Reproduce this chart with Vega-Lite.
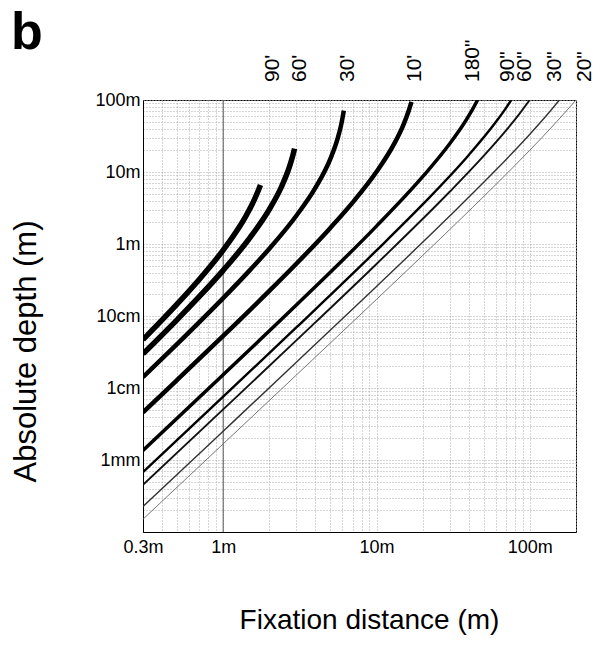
{
  "$schema": "https://vega.github.io/schema/vega-lite/v6.json",
  "width": 433,
  "height": 432,
  "autosize": {"type": "none"},
  "padding": {"left": 143, "top": 100, "right": 24, "bottom": 116},
  "background": "white",
  "config": {
    "font": "Liberation Sans",
    "view": {"stroke": "#000", "strokeWidth": 1}
  },
  "title": {
    "text": "b",
    "anchor": "start",
    "frame": "bounds",
    "fontSize": 52,
    "fontWeight": "bold",
    "color": "#000",
    "dx": 0,
    "dy": 24
  },
  "datasets": {
    "curves": [
      {"disparity": "90 arcmin", "D": 0.3, "depth": 0.04698},
      {"disparity": "90 arcmin", "D": 0.4, "depth": 0.08813},
      {"disparity": "90 arcmin", "D": 0.5, "depth": 0.14574},
      {"disparity": "90 arcmin", "D": 0.7, "depth": 0.32334},
      {"disparity": "90 arcmin", "D": 1.0, "depth": 0.8228},
      {"disparity": "90 arcmin", "D": 1.2, "depth": 1.4181},
      {"disparity": "90 arcmin", "D": 1.4, "depth": 2.4037},
      {"disparity": "90 arcmin", "D": 1.6, "depth": 4.1597},
      {"disparity": "90 arcmin", "D": 1.7, "depth": 5.607},
      {"disparity": "90 arcmin", "D": 1.751, "depth": 6.601},
      {"disparity": "60 arcmin", "D": 0.3, "depth": 0.02977},
      {"disparity": "60 arcmin", "D": 0.5, "depth": 0.08855},
      {"disparity": "60 arcmin", "D": 0.7, "depth": 0.18679},
      {"disparity": "60 arcmin", "D": 1.0, "depth": 0.43044},
      {"disparity": "60 arcmin", "D": 1.5, "depth": 1.2341},
      {"disparity": "60 arcmin", "D": 2.0, "depth": 3.023},
      {"disparity": "60 arcmin", "D": 2.4, "depth": 6.2389},
      {"disparity": "60 arcmin", "D": 2.7, "depth": 11.697},
      {"disparity": "60 arcmin", "D": 2.85, "depth": 17.16},
      {"disparity": "60 arcmin", "D": 2.92, "depth": 21.15},
      {"disparity": "30 arcmin", "D": 0.3, "depth": 0.014182},
      {"disparity": "30 arcmin", "D": 0.5, "depth": 0.040675},
      {"disparity": "30 arcmin", "D": 1.0, "depth": 0.17711},
      {"disparity": "30 arcmin", "D": 1.5, "depth": 0.43721},
      {"disparity": "30 arcmin", "D": 2.0, "depth": 0.86088},
      {"disparity": "30 arcmin", "D": 3.0, "depth": 2.4683},
      {"disparity": "30 arcmin", "D": 4.0, "depth": 6.0459},
      {"disparity": "30 arcmin", "D": 5.0, "depth": 15.185},
      {"disparity": "30 arcmin", "D": 5.6, "depth": 29.971},
      {"disparity": "30 arcmin", "D": 5.9, "depth": 46.64},
      {"disparity": "30 arcmin", "D": 6.12, "depth": 71.2},
      {"disparity": "10 arcmin", "D": 0.3, "depth": 0.0045828},
      {"disparity": "10 arcmin", "D": 0.5, "depth": 0.012861},
      {"disparity": "10 arcmin", "D": 1, "depth": 0.052801},
      {"disparity": "10 arcmin", "D": 2, "depth": 0.22299},
      {"disparity": "10 arcmin", "D": 3, "depth": 0.53132},
      {"disparity": "10 arcmin", "D": 5, "depth": 1.6735},
      {"disparity": "10 arcmin", "D": 7, "depth": 3.7871},
      {"disparity": "10 arcmin", "D": 10, "depth": 10.062},
      {"disparity": "10 arcmin", "D": 13, "depth": 24.356},
      {"disparity": "10 arcmin", "D": 15, "depth": 45.556},
      {"disparity": "10 arcmin", "D": 16.2, "depth": 70.19},
      {"disparity": "10 arcmin", "D": 16.9, "depth": 93.98},
      {"disparity": "180 arcsec", "D": 0.3, "depth": 0.00136},
      {"disparity": "180 arcsec", "D": 1, "depth": 0.015276},
      {"disparity": "180 arcsec", "D": 3, "depth": 0.14181},
      {"disparity": "180 arcsec", "D": 10, "depth": 1.7711},
      {"disparity": "180 arcsec", "D": 20, "depth": 8.6088},
      {"disparity": "180 arcsec", "D": 30, "depth": 24.682},
      {"disparity": "180 arcsec", "D": 38, "depth": 50.732},
      {"disparity": "180 arcsec", "D": 42, "depth": 72.11},
      {"disparity": "180 arcsec", "D": 45.63, "depth": 99.94},
      {"disparity": "90 arcsec", "D": 0.3, "depth": 0.0006786},
      {"disparity": "90 arcsec", "D": 1, "depth": 0.00758},
      {"disparity": "90 arcsec", "D": 3, "depth": 0.06927},
      {"disparity": "90 arcsec", "D": 10, "depth": 0.81349},
      {"disparity": "90 arcsec", "D": 20, "depth": 3.5421},
      {"disparity": "90 arcsec", "D": 40, "depth": 17.218},
      {"disparity": "90 arcsec", "D": 60, "depth": 49.365},
      {"disparity": "90 arcsec", "D": 70, "depth": 77.868},
      {"disparity": "90 arcsec", "D": 75.66, "depth": 99.96},
      {"disparity": "60 arcsec", "D": 0.3, "depth": 0.00045206},
      {"disparity": "60 arcsec", "D": 1, "depth": 0.0050406},
      {"disparity": "60 arcsec", "D": 3, "depth": 0.045827},
      {"disparity": "60 arcsec", "D": 10, "depth": 0.52801},
      {"disparity": "60 arcsec", "D": 30, "depth": 5.3132},
      {"disparity": "60 arcsec", "D": 50, "depth": 16.735},
      {"disparity": "60 arcsec", "D": 70, "depth": 37.87},
      {"disparity": "60 arcsec", "D": 85, "depth": 63.163},
      {"disparity": "60 arcsec", "D": 99.8, "depth": 100},
      {"disparity": "30 arcsec", "D": 0.3, "depth": 0.00022586},
      {"disparity": "30 arcsec", "D": 1, "depth": 0.0025139},
      {"disparity": "30 arcsec", "D": 3, "depth": 0.02274},
      {"disparity": "30 arcsec", "D": 10, "depth": 0.25721},
      {"disparity": "30 arcsec", "D": 30, "depth": 2.4405},
      {"disparity": "30 arcsec", "D": 60, "depth": 10.626},
      {"disparity": "30 arcsec", "D": 100, "depth": 33.468},
      {"disparity": "30 arcsec", "D": 130, "depth": 62.874},
      {"disparity": "30 arcsec", "D": 155.9, "depth": 100},
      {"disparity": "20 arcsec", "D": 0.3, "depth": 0.00015054},
      {"disparity": "20 arcsec", "D": 1, "depth": 0.0016746},
      {"disparity": "20 arcsec", "D": 3, "depth": 0.015122},
      {"disparity": "20 arcsec", "D": 10, "depth": 0.17002},
      {"disparity": "20 arcsec", "D": 30, "depth": 1.5841},
      {"disparity": "20 arcsec", "D": 60, "depth": 6.6893},
      {"disparity": "20 arcsec", "D": 100, "depth": 20.074},
      {"disparity": "20 arcsec", "D": 150, "depth": 50.204},
      {"disparity": "20 arcsec", "D": 200, "depth": 100}
    ],
    "labels": [
      {"label": "90'", "D": 2.12},
      {"label": "60'", "D": 3.17},
      {"label": "30'", "D": 6.52},
      {"label": "10'", "D": 17.8},
      {"label": "180\"", "D": 42.5},
      {"label": "90\"", "D": 71.9},
      {"label": "60\"", "D": 92.8},
      {"label": "30\"", "D": 145.5},
      {"label": "20\"", "D": 228}
    ],
    "refline": [{"D": 1}]
  },
  "encoding": {
    "x": {
      "type": "quantitative",
      "title": "Fixation distance (m)",
      "scale": {"type": "log", "domain": [0.3, 200], "nice": false},
      "axis": {
        "values": [0.3, 0.4, 0.5, 0.6, 0.7, 0.8, 0.9, 1, 2, 3, 4, 5, 6, 7, 8, 9, 10, 20, 30, 40, 50, 60, 70, 80, 90, 100, 200],
        "labelExpr": "datum.value == 0.3 ? '0.3m' : datum.value == 1 ? '1m' : datum.value == 10 ? '10m' : datum.value == 100 ? '100m' : ''",
        "labelFontSize": 18,
        "labelColor": "#000",
        "labelPadding": 6,
        "labelFlush": false,
        "labelOverlap": false,
        "ticks": false,
        "domainColor": "#000",
        "grid": true,
        "gridColor": "#aaa",
        "gridDash": [1, 2],
        "gridOpacity": 1,
        "titleFontSize": 28,
        "titleFontWeight": "normal",
        "titleColor": "#000",
        "titlePadding": 50,
        "titleX": 226
      }
    },
    "y": {
      "type": "quantitative",
      "title": "Absolute depth (m)",
      "scale": {"type": "log", "domain": [0.0001, 100], "nice": false},
      "axis": {
        "values": [0.0001, 0.0002, 0.0003, 0.0004, 0.0005, 0.0006, 0.0007, 0.0008, 0.0009, 0.001, 0.002, 0.003, 0.004, 0.005, 0.006, 0.007, 0.008, 0.009, 0.01, 0.02, 0.03, 0.04, 0.05, 0.06, 0.07, 0.08, 0.09, 0.1, 0.2, 0.3, 0.4, 0.5, 0.6, 0.7, 0.8, 0.9, 1, 2, 3, 4, 5, 6, 7, 8, 9, 10, 20, 30, 40, 50, 60, 70, 80, 90, 100],
        "labelExpr": "datum.value == 100 ? '100m' : datum.value == 10 ? '10m' : datum.value == 1 ? '1m' : datum.value == 0.1 ? '10cm' : datum.value == 0.01 ? '1cm' : datum.value == 0.001 ? '1mm' : ''",
        "labelFontSize": 18,
        "labelColor": "#000",
        "labelPadding": 3,
        "labelFlush": false,
        "labelOverlap": false,
        "ticks": false,
        "domainColor": "#000",
        "grid": true,
        "gridColor": "#aaa",
        "gridDash": [1, 2],
        "gridOpacity": 1,
        "titleFontSize": 31,
        "titleFontWeight": "normal",
        "titleColor": "#000",
        "titlePadding": 52,
        "titleY": 251
      }
    }
  },
  "layer": [
    {
      "data": {"name": "refline"},
      "mark": {"type": "rule", "color": "#555", "strokeWidth": 1},
      "encoding": {
        "x": {"field": "D", "type": "quantitative"}
      }
    },
    {
      "data": {"name": "curves"},
      "mark": {"type": "line", "interpolate": "monotone", "clip": true},
      "encoding": {
        "x": {"field": "D", "type": "quantitative"},
        "y": {"field": "depth", "type": "quantitative"},
        "detail": {"field": "disparity", "type": "nominal"},
        "strokeWidth": {
          "field": "disparity", "type": "nominal", "legend": null,
          "scale": {
            "type": "ordinal",
            "domain": ["90 arcmin", "60 arcmin", "30 arcmin", "10 arcmin", "180 arcsec", "90 arcsec", "60 arcsec", "30 arcsec", "20 arcsec"],
            "range": [5.5, 5.5, 4.5, 4.5, 3.5, 2.4, 1.9, 1.4, 0.9]
          }
        },
        "color": {
          "field": "disparity", "type": "nominal", "legend": null,
          "scale": {
            "domain": ["90 arcmin", "60 arcmin", "30 arcmin", "10 arcmin", "180 arcsec", "90 arcsec", "60 arcsec", "30 arcsec", "20 arcsec"],
            "range": ["#000", "#000", "#000", "#000", "#000", "#000", "#111", "#333", "#666"]
          }
        }
      }
    },
    {
      "data": {"name": "labels"},
      "mark": {"type": "text", "angle": 270, "align": "left", "baseline": "middle", "dx": 18, "fontSize": 21, "color": "#000"},
      "encoding": {
        "x": {"field": "D", "type": "quantitative"},
        "y": {"datum": 100, "type": "quantitative"},
        "text": {"field": "label", "type": "nominal"}
      }
    }
  ]
}
